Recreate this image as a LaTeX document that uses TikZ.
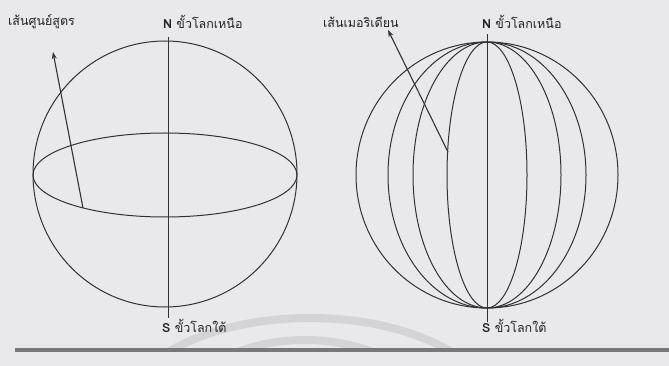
\documentclass[tikz,border=0pt]{standalone}
\usepackage{fontspec}
\newfontfamily\thaifont[Script=Thai]{Loma}
\usetikzlibrary{arrows.meta}
\definecolor{bg}{RGB}{233,233,235}
\definecolor{ink}{RGB}{50,50,54}
\definecolor{txt}{RGB}{35,35,38}
\definecolor{faint}{RGB}{212,212,214}
\definecolor{bar}{RGB}{120,120,122}
\begin{document}
\begin{tikzpicture}[x=1pt,y=-1pt,
  globe/.style={draw=ink, line width=1pt},
  axisline/.style={draw=ink, line width=1pt},
  pointer/.style={draw=ink, line width=1.1pt, -{Stealth[length=7pt,width=5pt]}},
  lbl/.style={font=\thaifont\fontsize{12.5}{14}\selectfont, inner sep=0pt, anchor=west, text=txt},
  wm/.style={draw=faint, line width=8pt}]
\useasboundingbox[fill=bg] (0,0) rectangle (669,366);
% faint background arcs
\begin{scope}
\clip (0,300) rectangle (669,348);
\draw[wm] (310,420) ellipse [x radius=190, y radius=102];
\draw[wm] (305,420) ellipse [x radius=128, y radius=80];
\end{scope}
\fill[bar] (15,348) rectangle (669,352);
% ---------- left globe ----------
\draw[globe] (165,174) ellipse [x radius=132, y radius=133];
\draw[globe] (165,175) ellipse [x radius=132, y radius=42];
\coordinate (lN) at (168,37);
\coordinate (lS) at (168,318);
\draw[axisline] (lN) -- (lS);
\node[lbl] (eqlbl) at (8,22) {เส้นศูนย์สูตร};
\node[lbl] (lNlbl) at (163,22) {\textbf{N} ขั้วโลกเหนือ};
\node[lbl] (lSlbl) at (162,326) {\textbf{S} ขั้วโลกใต้};
\coordinate (eqA) at (83,208);
\coordinate (eqTip) at (53,52);
\draw[pointer] (eqA) -- (eqTip);
% ---------- right globe ----------
\draw[globe] (487,175) ellipse [x radius=131, y radius=133];
\foreach \r in {40,74,99}
  \draw[globe] (487,175) ellipse [x radius=\r, y radius=133];
\coordinate (rN) at (487,34);
\coordinate (rS) at (487,322);
\draw[axisline] (rN) -- (rS);
\node[lbl] (merlbl) at (323,22) {เส้นเมอริเดียน};
\node[lbl] (rNlbl) at (482,22) {\textbf{N} ขั้วโลกเหนือ};
\node[lbl] (rSlbl) at (482,326) {\textbf{S} ขั้วโลกใต้};
\coordinate (merA) at (448,152);
\coordinate (merTip) at (388,30);
\draw[pointer] (merA) -- (merTip);
\end{tikzpicture}
\end{document}
